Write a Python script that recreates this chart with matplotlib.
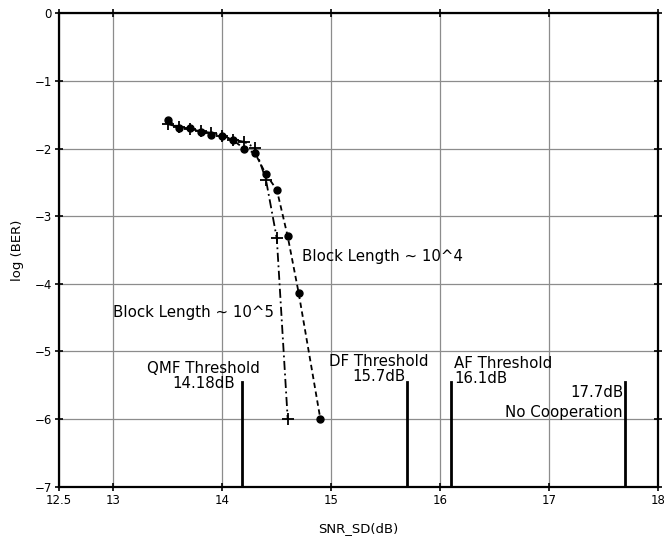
import matplotlib
matplotlib.use("Agg")
import matplotlib.pyplot as plt

# Block length 10^4 (dashed, circles)
snr_1e4 = [13.5, 13.6, 13.7, 13.8, 13.9, 14.0, 14.1, 14.2, 14.3, 14.4, 14.5, 14.6, 14.7, 14.9]
ber_1e4 = [-1.58, -1.69, -1.70, -1.75, -1.80, -1.82, -1.88, -2.00, -2.07, -2.38, -2.61, -3.30, -4.13, -6.0]

# Block length 10^5 (dash-dot, plus)
snr_1e5 = [13.5, 13.6, 13.7, 13.8, 13.9, 14.0, 14.1, 14.2, 14.3, 14.4, 14.5, 14.6]
ber_1e5 = [-1.64, -1.68, -1.71, -1.74, -1.77, -1.81, -1.87, -1.90, -1.99, -2.46, -3.33, -6.0]

# threshold markers
thr_x = [14.18, 15.7, 16.1, 17.7]
thr_top = -5.45

xticks = [12.5, 13, 14, 15, 16, 17, 18]
yticks = [0, -1, -2, -3, -4, -5, -6, -7]

fig = plt.figure(figsize=(6.64, 5.42), dpi=100)
ax = fig.add_axes([0.0889, 0.102, 0.902, 0.8735])

ax.set_xlim(12.5, 18)
ax.set_ylim(-7, 0)
ax.set_xticks(xticks)
ax.set_xticklabels(["12.5", "13", "14", "15", "16", "17", "18"])
ax.set_yticks(yticks)
ax.grid(True, color="#8c8c8c", linewidth=0.9)
ax.set_axisbelow(True)
for s in ax.spines.values():
    s.set_linewidth(1.6)
ax.tick_params(direction="inout", top=True, right=True, length=6, width=1.2,
               labelsize=8.5, pad=2)

ax.plot(snr_1e4, ber_1e4, color="black", linestyle=(0, (3, 2)), linewidth=1.3,
        marker="o", markersize=5)
ax.plot(snr_1e5, ber_1e5, color="black", linestyle=(0, (5, 2, 1, 2)), linewidth=1.3,
        marker="+", markersize=8, markeredgewidth=1.3)

for x in thr_x:
    ax.plot([x, x], [-7, thr_top], color="black", linewidth=2)

fs = 10.8
ax.text(14.73, -3.59, "Block Length ~ 10^4", fontsize=fs, va="center", ha="left")
ax.text(13.0, -4.42, "Block Length ~ 10^5", fontsize=fs, va="center", ha="left")
ax.text(13.83, -5.14, "QMF Threshold\n14.18dB", fontsize=fs, va="top", ha="center",
        multialignment="center", linespacing=1.0)
ax.text(15.44, -5.04, "DF Threshold\n15.7dB", fontsize=fs, va="top", ha="center",
        multialignment="center", linespacing=1.0)
ax.text(16.13, -5.06, "AF Threshold\n16.1dB", fontsize=fs, va="top", ha="left",
        multialignment="left", linespacing=1.0)
ax.text(17.68, -5.5, "17.7dB\nNo Cooperation", fontsize=fs, va="top", ha="right",
        multialignment="right", linespacing=1.4)

ax.set_xlabel("SNR_SD(dB)", fontsize=9.5, labelpad=11)
ax.set_ylabel("log (BER)", fontsize=9.5, labelpad=8)

fig.savefig("out.png", dpi=100)
